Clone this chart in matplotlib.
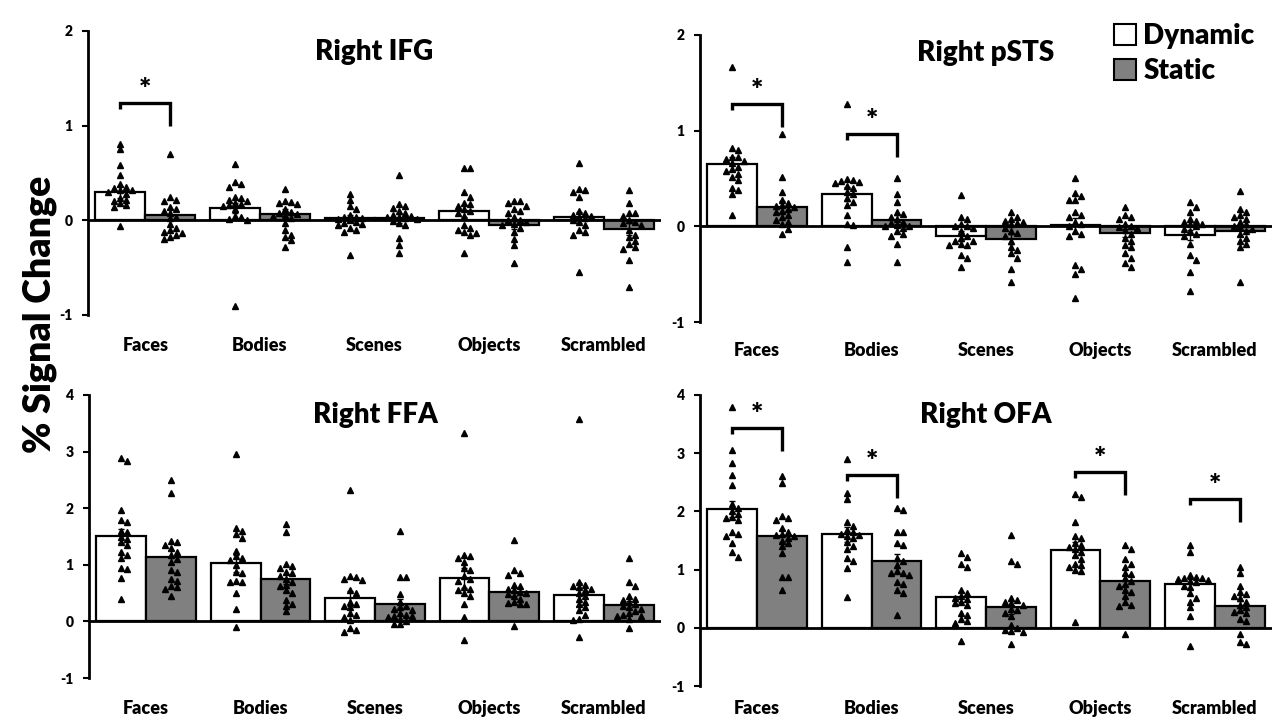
import matplotlib
matplotlib.use("Agg")
import matplotlib.pyplot as plt
from matplotlib.patches import Patch
import numpy as np

plt.rcParams['font.family'] = ['Lato', 'DejaVu Sans']
plt.rcParams['font.weight'] = 'bold'

categories = ["Faces", "Bodies", "Scenes", "Objects", "Scrambled"]
conditions = ["Dynamic", "Static"]
titles = ["Right IFG", "Right pSTS", "Right FFA", "Right OFA"]

# ---------------- Right IFG ----------------
ifg_dyn_mean = [0.30, 0.13, 0.02, 0.10, 0.03]
ifg_sta_mean = [0.06, 0.07, 0.02, -0.05, -0.09]
ifg_dyn_err = [0.06, 0.05, 0.04, 0.06, 0.06]
ifg_sta_err = [0.06, 0.05, 0.05, 0.04, 0.06]
ifg_dyn_pts = [
    [0.81, 0.75, 0.58, 0.48, 0.38, 0.35, 0.34, 0.32, 0.32, 0.30, 0.28, 0.24, 0.22, 0.20, 0.18, 0.16, 0.14, -0.06],
    [0.60, 0.40, 0.38, 0.35, 0.25, 0.24, 0.22, 0.20, 0.18, 0.17, 0.16, 0.15, 0.12, 0.05, 0.04, 0.01, 0.00, -0.90],
    [0.28, 0.22, 0.15, 0.12, 0.06, 0.04, 0.03, 0.02, 0.01, 0.00, -0.02, -0.03, -0.04, -0.05, -0.08, -0.10, -0.12, -0.37],
    [0.55, 0.55, 0.30, 0.25, 0.18, 0.17, 0.15, 0.12, 0.10, 0.08, 0.05, -0.05, -0.08, -0.10, -0.12, -0.13, -0.15, -0.35],
    [0.61, 0.33, 0.32, 0.30, 0.25, 0.10, 0.08, 0.06, 0.05, 0.04, 0.02, 0.00, -0.02, -0.05, -0.10, -0.12, -0.15, -0.55],
]
ifg_sta_pts = [
    [0.70, 0.25, 0.22, 0.20, 0.14, 0.12, 0.10, 0.08, 0.04, 0.02, -0.04, -0.08, -0.10, -0.12, -0.13, -0.15, -0.18, -0.20],
    [0.33, 0.20, 0.19, 0.18, 0.17, 0.12, 0.09, 0.08, 0.07, 0.06, 0.05, 0.02, -0.03, -0.10, -0.15, -0.18, -0.21, -0.28],
    [0.48, 0.17, 0.15, 0.13, 0.10, 0.08, 0.06, 0.05, 0.04, 0.03, 0.02, 0.01, -0.01, -0.03, -0.05, -0.19, -0.26, -0.35],
    [0.20, 0.20, 0.18, 0.15, 0.12, 0.10, 0.08, 0.03, 0.00, 0.00, -0.02, -0.04, -0.05, -0.08, -0.12, -0.20, -0.26, -0.45],
    [0.32, 0.18, 0.08, 0.08, 0.05, 0.00, -0.02, -0.03, -0.05, -0.10, -0.15, -0.18, -0.22, -0.25, -0.28, -0.30, -0.42, -0.70],
]
ifg_sig = [(0, 1.24)]

# ---------------- Right pSTS ----------------
psts_dyn_mean = [0.65, 0.34, -0.10, 0.01, -0.09]
psts_sta_mean = [0.20, 0.07, -0.13, -0.07, -0.05]
psts_dyn_err = [0.07, 0.07, 0.05, 0.08, 0.05]
psts_sta_err = [0.06, 0.05, 0.05, 0.04, 0.05]
psts_dyn_pts = [
    [1.67, 0.82, 0.80, 0.72, 0.72, 0.70, 0.68, 0.66, 0.62, 0.60, 0.58, 0.55, 0.52, 0.48, 0.40, 0.38, 0.34, 0.12],
    [1.28, 0.50, 0.48, 0.47, 0.46, 0.45, 0.42, 0.40, 0.36, 0.34, 0.30, 0.25, 0.22, 0.12, 0.02, 0.01, -0.22, -0.37],
    [0.33, 0.10, 0.08, 0.02, 0.00, 0.00, -0.02, -0.05, -0.10, -0.12, -0.15, -0.15, -0.18, -0.20, -0.20, -0.30, -0.33, -0.42],
    [0.51, 0.35, 0.32, 0.28, 0.28, 0.15, 0.12, 0.10, 0.05, 0.02, 0.00, -0.05, -0.08, -0.10, -0.40, -0.45, -0.50, -0.75],
    [0.25, 0.20, 0.15, 0.08, 0.06, 0.05, 0.02, 0.02, 0.00, -0.03, -0.05, -0.08, -0.10, -0.18, -0.30, -0.35, -0.48, -0.68],
]
psts_sta_pts = [
    [0.96, 0.52, 0.36, 0.28, 0.24, 0.22, 0.21, 0.20, 0.18, 0.16, 0.15, 0.12, 0.10, 0.07, 0.05, 0.02, -0.03, -0.08],
    [0.51, 0.34, 0.25, 0.15, 0.13, 0.10, 0.08, 0.05, 0.03, 0.01, 0.00, 0.00, -0.02, -0.05, -0.08, -0.10, -0.18, -0.37],
    [0.15, 0.10, 0.08, 0.06, 0.05, 0.03, 0.02, -0.02, -0.05, -0.07, -0.10, -0.15, -0.22, -0.25, -0.28, -0.33, -0.45, -0.58],
    [0.20, 0.12, 0.10, 0.08, 0.02, 0.00, -0.01, -0.02, -0.04, -0.08, -0.12, -0.15, -0.20, -0.22, -0.28, -0.33, -0.38, -0.42],
    [0.37, 0.18, 0.15, 0.12, 0.10, 0.08, 0.05, 0.02, 0.00, -0.01, -0.03, -0.05, -0.08, -0.12, -0.15, -0.18, -0.22, -0.58],
]
psts_sig = [(0, 1.28), (1, 0.96)]

# ---------------- Right FFA ----------------
ffa_dyn_mean = [1.51, 1.03, 0.41, 0.77, 0.47]
ffa_sta_mean = [1.14, 0.75, 0.31, 0.52, 0.29]
ffa_dyn_err = [0.12, 0.15, 0.13, 0.18, 0.20]
ffa_sta_err = [0.12, 0.09, 0.08, 0.07, 0.07]
ffa_dyn_pts = [
    [2.88, 2.84, 1.97, 1.80, 1.75, 1.60, 1.58, 1.50, 1.45, 1.40, 1.35, 1.22, 1.18, 1.12, 0.95, 0.93, 0.76, 0.40],
    [2.96, 1.65, 1.60, 1.55, 1.48, 1.25, 1.15, 1.12, 1.08, 1.00, 0.88, 0.85, 0.72, 0.70, 0.70, 0.50, 0.22, -0.10],
    [2.32, 0.80, 0.78, 0.75, 0.74, 0.55, 0.50, 0.35, 0.30, 0.28, 0.25, 0.15, 0.12, 0.08, 0.02, -0.12, -0.15, -0.18],
    [3.33, 1.18, 1.15, 1.12, 1.05, 0.95, 0.90, 0.80, 0.75, 0.72, 0.60, 0.58, 0.55, 0.50, 0.45, 0.30, 0.08, -0.32],
    [3.57, 0.70, 0.65, 0.62, 0.60, 0.58, 0.55, 0.50, 0.45, 0.40, 0.35, 0.30, 0.25, 0.20, 0.12, 0.05, 0.03, -0.28],
]
ffa_sta_pts = [
    [2.50, 2.27, 1.42, 1.40, 1.35, 1.30, 1.22, 1.18, 1.10, 1.05, 0.90, 0.88, 0.75, 0.72, 0.62, 0.60, 0.58, 0.45],
    [1.72, 1.58, 1.02, 0.98, 0.95, 0.88, 0.85, 0.80, 0.75, 0.70, 0.65, 0.62, 0.55, 0.50, 0.38, 0.30, 0.28, 0.18],
    [1.60, 0.78, 0.78, 0.48, 0.35, 0.28, 0.25, 0.22, 0.20, 0.15, 0.12, 0.10, 0.10, 0.08, 0.05, 0.00, -0.04, -0.05],
    [1.43, 0.90, 0.85, 0.82, 0.65, 0.62, 0.58, 0.55, 0.52, 0.50, 0.48, 0.45, 0.40, 0.35, 0.32, 0.30, 0.30, -0.08],
    [1.12, 0.70, 0.62, 0.45, 0.40, 0.38, 0.35, 0.30, 0.28, 0.25, 0.22, 0.18, 0.15, 0.12, 0.10, 0.10, 0.05, -0.12],
]
ffa_sig = []

# ---------------- Right OFA ----------------
ofa_dyn_mean = [2.04, 1.61, 0.53, 1.34, 0.75]
ofa_sta_mean = [1.58, 1.15, 0.35, 0.81, 0.37]
ofa_dyn_err = [0.14, 0.13, 0.09, 0.13, 0.08]
ofa_sta_err = [0.10, 0.12, 0.11, 0.10, 0.09]
ofa_dyn_pts = [
    [3.80, 3.06, 2.84, 2.63, 2.45, 2.13, 2.05, 2.00, 1.95, 1.90, 1.88, 1.85, 1.65, 1.62, 1.58, 1.45, 1.30, 1.22],
    [2.90, 2.32, 2.22, 1.82, 1.75, 1.68, 1.65, 1.62, 1.60, 1.58, 1.55, 1.48, 1.40, 1.35, 1.20, 1.15, 1.02, 0.53],
    [1.28, 1.22, 1.10, 1.05, 0.65, 0.60, 0.55, 0.52, 0.50, 0.45, 0.42, 0.40, 0.25, 0.22, 0.15, 0.12, 0.08, -0.22],
    [2.30, 2.25, 1.82, 1.58, 1.55, 1.45, 1.42, 1.38, 1.35, 1.30, 1.25, 1.18, 1.10, 1.08, 1.05, 1.00, 0.98, 0.10],
    [1.42, 1.30, 0.90, 0.88, 0.86, 0.85, 0.83, 0.82, 0.80, 0.78, 0.72, 0.70, 0.60, 0.52, 0.45, 0.35, 0.20, -0.32],
]
ofa_sta_pts = [
    [2.60, 2.48, 1.92, 1.88, 1.85, 1.72, 1.65, 1.62, 1.60, 1.58, 1.55, 1.50, 1.45, 1.40, 1.28, 0.88, 0.88, 0.65],
    [2.05, 2.03, 1.65, 1.65, 1.45, 1.42, 1.20, 1.15, 1.08, 0.97, 0.95, 0.95, 0.90, 0.78, 0.75, 0.65, 0.60, 0.22],
    [1.60, 1.15, 1.10, 0.52, 0.48, 0.45, 0.42, 0.40, 0.32, 0.30, 0.25, 0.20, 0.05, 0.00, -0.03, -0.05, -0.08, -0.28],
    [1.43, 1.35, 1.18, 1.10, 1.05, 0.95, 0.92, 0.85, 0.80, 0.75, 0.72, 0.65, 0.62, 0.55, 0.45, 0.40, 0.38, -0.10],
    [1.05, 0.95, 0.72, 0.62, 0.58, 0.55, 0.52, 0.45, 0.40, 0.35, 0.30, 0.28, 0.25, 0.15, 0.12, -0.10, -0.25, -0.28],
]
ofa_sig = [(0, 3.44), (1, 2.62), (3, 2.67), (4, 2.21)]

y_limits = [(-1, 2), (-1, 2), (-1, 4), (-1, 4)]

panels = [
    (ifg_dyn_mean, ifg_sta_mean, ifg_dyn_err, ifg_sta_err, ifg_dyn_pts, ifg_sta_pts, ifg_sig),
    (psts_dyn_mean, psts_sta_mean, psts_dyn_err, psts_sta_err, psts_dyn_pts, psts_sta_pts, psts_sig),
    (ffa_dyn_mean, ffa_sta_mean, ffa_dyn_err, ffa_sta_err, ffa_dyn_pts, ffa_sta_pts, ffa_sig),
    (ofa_dyn_mean, ofa_sta_mean, ofa_dyn_err, ofa_sta_err, ofa_dyn_pts, ofa_sta_pts, ofa_sig),
]

# ---------------- layout (pixels) ----------------
W, H = 1276, 718
# (left, top, right, bottom) in pixels
rects_px = [(88, 31, 661, 315), (700, 35, 1272, 322), (89, 395, 661, 678), (700, 395, 1272, 686)]
label_baselines = [36, 34, 36, 28]
title_offsets = [21, 18, 20, 20]
HEAVY = "heavy"

fig = plt.figure(figsize=(W / 100, H / 100), dpi=100)

bar_w = 0.436
colors = ["white", "#808080"]


def swarm_offsets(vals, px_per_unit, step_px=6.0, min_dy_px=5.5):
    vals = np.asarray(vals, dtype=float)
    order = np.argsort(-vals, kind="stable")
    placed = []
    offs = np.zeros(len(vals))
    slots = [0, 1, -1, 2, -2, 3, -3, 4, -4, 5, -5]
    for idx in order:
        y = vals[idx] * px_per_unit
        chosen = slots[-1]
        for s in slots:
            if all(not (ps == s and abs(y - py) < min_dy_px) for py, ps in placed):
                chosen = s
                break
        placed.append((y, chosen))
        offs[idx] = chosen * step_px
    return offs


for p, (rect, panel, ylim, title) in enumerate(zip(rects_px, panels, y_limits, titles)):
    l, t, r, b = rect
    ax = fig.add_axes([l / W, 1 - b / H, (r - l) / W, (b - t) / H])
    dyn_m, sta_m, dyn_e, sta_e, dyn_p, sta_p, sig = panel
    ax.set_xlim(-0.5, len(categories) - 0.5)
    ax.set_ylim(*ylim)
    px_per_unit_y = (b - t) / (ylim[1] - ylim[0])
    px_per_cat = (r - l) / len(categories)
    x = np.arange(len(categories))

    for k, (means, errs, pts) in enumerate([(dyn_m, dyn_e, dyn_p), (sta_m, sta_e, sta_p)]):
        xs = x + (k - 0.5) * bar_w
        ax.bar(xs, means, width=bar_w, color=colors[k], edgecolor="black",
               linewidth=1.6, zorder=2)
        ax.errorbar(xs, means, yerr=errs, fmt="none", ecolor="black",
                    elinewidth=1.0, capsize=2.0, capthick=1.0, zorder=4)
        for i, vals in enumerate(pts):
            offs = swarm_offsets(vals, px_per_unit_y) / px_per_cat
            ax.plot(xs[i] + offs, vals, linestyle="none", marker="^",
                    markersize=3.8, color="black", zorder=5)

    ax.axhline(0, color="black", linewidth=2.0, zorder=3)

    # significance brackets
    for ci, top in sig:
        xl = ci - 0.5 * bar_w
        xr = ci + 0.5 * bar_w
        leg_l = 6 / px_per_unit_y
        leg_r = 23 / px_per_unit_y
        ax.plot([xl, xl, xr, xr], [top - leg_l, top, top, top - leg_r],
                color="black", linewidth=2.4, solid_joinstyle="miter",
                solid_capstyle="butt", zorder=6)
        ax.text(ci, top + 13 / px_per_unit_y, "*", ha="center", va="center",
                fontsize=21, fontweight=HEAVY, zorder=6)

    # axes styling
    for s in ["top", "right", "bottom"]:
        ax.spines[s].set_visible(False)
    ax.spines["left"].set_linewidth(2.0)
    ax.set_yticks(np.arange(ylim[0], ylim[1] + 1, 1))
    ax.set_yticklabels([str(v) for v in range(ylim[0], ylim[1] + 1)])
    ax.tick_params(axis="y", direction="out", length=4, width=1.5, pad=7,
                   labelsize=10)
    for lab in ax.get_yticklabels():
        lab.set_fontweight(HEAVY)
    ax.set_xticks([])
    ax.patch.set_alpha(0)

    for i, c in enumerate(categories):
        ax.annotate(c, xy=(i, 0), xycoords=("data", "axes fraction"),
                    xytext=(0, -label_baselines[p]), textcoords="offset pixels",
                    ha="center", va="baseline", fontsize=13, fontweight=HEAVY)

    ax.text(0.5, 1 - title_offsets[p] / (b - t), title, transform=ax.transAxes,
            ha="center", va="center", fontsize=20, fontweight=HEAVY)

# y label
fig.text(40 / W, 1 - 314 / H, "% Signal Change", rotation=90, ha="center",
         va="center", fontsize=27, fontweight=HEAVY)

# legend
handles = [Patch(facecolor="white", edgecolor="black", linewidth=1.5, label="Dynamic"),
           Patch(facecolor="#808080", edgecolor="black", linewidth=1.5, label="Static")]
fig.legend(handles=handles, loc="upper right", bbox_to_anchor=(1274 / W, 1 - 4 / H),
           frameon=False, handlelength=0.8, handleheight=0.8,
           handletextpad=0.25, labelspacing=0.3, borderpad=0.2,
           prop={"weight": HEAVY, "size": 20})

fig.savefig("out.png", dpi=100)
